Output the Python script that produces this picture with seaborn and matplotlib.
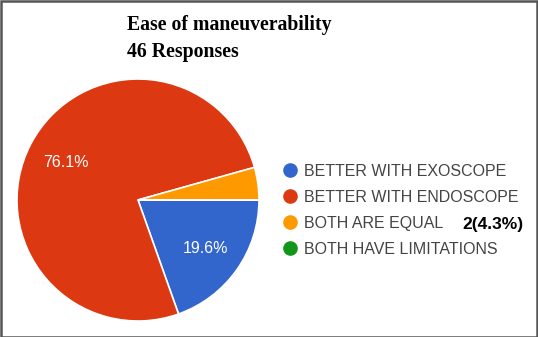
import matplotlib
matplotlib.use("Agg")
import matplotlib.pyplot as plt
from matplotlib.lines import Line2D
from matplotlib.patches import Rectangle
import seaborn as sns

title_line1 = "Ease of maneuverability"
title_line2 = "46 Responses"
categories = ["BETTER WITH EXOSCOPE", "BETTER WITH ENDOSCOPE", "BOTH ARE EQUAL", "BOTH HAVE LIMITATIONS"]
counts = [9, 35, 2, 0]
colors = ["#3366CC", "#DC3912", "#FF9900", "#109618"]
equal_note = "2(4.3%)"

sns.set_theme(style="white")
plt.rcParams["font.family"] = ["Liberation Sans", "DejaVu Sans"]

W, H = 538, 337
fig = plt.figure(figsize=(W / 100, H / 100), dpi=100)
fig.patch.set_facecolor("white")

# pie axes: centre (138,200), radius 121 px
cx, cy, r = 138, 200, 121
ax = fig.add_axes([(cx - r) / W, (H - cy - r) / H, 2 * r / W, 2 * r / H])

total = sum(counts)
wedges, _ = ax.pie(counts, colors=colors, startangle=0, counterclock=False, radius=1,
                   wedgeprops=dict(edgecolor="white", linewidth=1.2))
ax.set_xlim(-1, 1)
ax.set_ylim(-1, 1)
ax.axis("off")
pct = [c / total * 100 for c in counts]
# labels inside main slices
ax.text(-0.60, 0.31, f"{pct[1]:.1f}%", color="white", fontsize=11.5, ha="center", va="center")
ax.text(0.56, -0.40, f"{pct[0]:.1f}%", color="white", fontsize=11.5, ha="center", va="center")

# title
fig.text(127 / W, 1 - 25 / H, title_line1, family="Liberation Serif", weight="bold",
         fontsize=14.2, color="black", ha="left", va="center")
fig.text(127 / W, 1 - 52 / H, title_line2, family="Liberation Serif", weight="bold",
         fontsize=14.2, color="black", ha="left", va="center")

# legend
handles = [Line2D([0], [0], marker="o", linestyle="none", markersize=9.5,
                  markerfacecolor=c, markeredgecolor=c) for c in colors]
leg = fig.legend(handles, categories, loc="upper left", bbox_to_anchor=(282 / W, 1 - 164 / H),
                 frameon=False, fontsize=11.5, handletextpad=0.35, labelspacing=0.68,
                 handlelength=1.0, borderpad=0, borderaxespad=0)
for t in leg.get_texts():
    t.set_color("#444444")

fig.text(462 / W, 1 - 224 / H, equal_note, fontsize=12.5, weight="bold", color="black",
         ha="left", va="center")

# frame
fig.add_artist(Rectangle((0.5 / W, 0.5 / H), 1 - 1.5 / W, 1 - 1.5 / H, transform=fig.transFigure,
                         fill=False, edgecolor="#555555", linewidth=1.8))

fig.savefig("out.png", dpi=100)
